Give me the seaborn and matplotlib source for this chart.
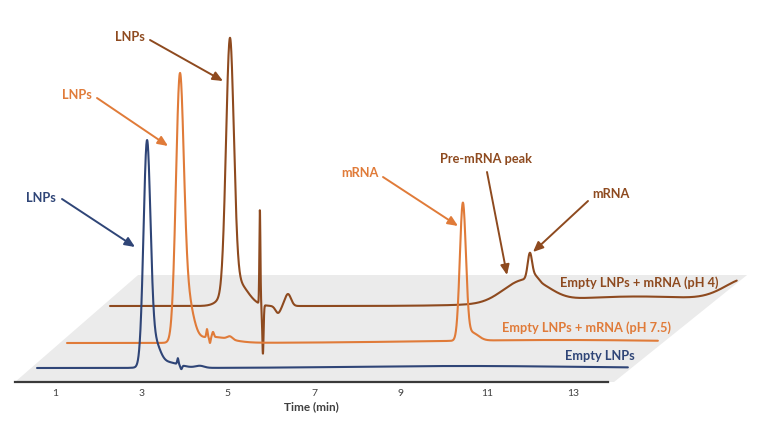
import numpy as np
import pandas as pd
import seaborn as sns
import matplotlib.pyplot as plt
from matplotlib.patches import Polygon
from matplotlib.transforms import ScaledTranslation

sns.set_theme(style="white")
plt.rcParams['font.family'] = ['Lato', 'DejaVu Sans']

# --- data (time in min, signal in a.u.) ---
trace_names = ['Empty LNPs', 'Empty LNPs + mRNA (pH 7.5)', 'Empty LNPs + mRNA (pH 4)']
run_start = [0.58, 0.58, 0.58]
run_end = [14.26, 14.26, 15.09]

blue_rt = [3.125, 3.30, 3.55, 3.84, 3.92, 4.35, 10.5]
blue_height = [218, 22, 6, 6, -4, 2, 2]
blue_width = [0.08, 0.12, 0.30, 0.015, 0.02, 0.10, 2.5]

orange_rt = [3.19, 3.35, 3.95, 3.82, 3.89, 3.96, 4.35, 9.745, 9.95, 12.0]
orange_height = [245, 45, 6, 8, -6, 5, 3, 135, 8, 3]
orange_width = [0.09, 0.14, 0.40, 0.015, 0.015, 0.02, 0.06, 0.07, 0.15, 3.0]

brown_rt = [3.356, 3.50, 4.05, 4.12, 4.47, 4.70, 10.1, 10.6, 10.30, 10.42, 12.8, 15.4]
brown_height = [247, 25, 94, -49, -7, 12, 20, 6, 25, 5, 9.5, 24]
brown_width = [0.09, 0.25, 0.012, 0.015, 0.06, 0.07, 0.45, 0.35, 0.05, 0.08, 2.0, 0.55]

tick_values = [1, 3, 5, 7, 9, 11, 13]

peaks = [(blue_rt, blue_height, blue_width),
         (orange_rt, orange_height, orange_width),
         (brown_rt, brown_height, brown_width)]
colors = ['#2f4577', '#e07b39', '#8e4a1f']
shift_px = [(0, 0), (30, 25), (73, 62)]   # pseudo-3D offset of each run


def chromatogram(t, rts, heights, widths):
    y = np.zeros_like(t)
    for rt, h, w in zip(rts, heights, widths):
        y += h * np.exp(-0.5 * ((t - rt) / w) ** 2)
    return y


frames = []
for name, t0, t1, (rt, h, w) in zip(trace_names, run_start, run_end, peaks):
    t = np.linspace(t0, t1, 4000)
    frames.append(pd.DataFrame({'run': name, 'time': t, 'signal': chromatogram(t, rt, h, w)}))
df = pd.concat(frames, ignore_index=True)

W, H = 768, 432
fig = plt.figure(figsize=(W / 100, H / 100), dpi=100)
ax = fig.add_axes([15 / W, 50 / H, 593 / W, 372 / H])
ax.set_xlim(0.07, 13.8)
ax.set_ylim(-14, 358)

# grey floor
floor = Polygon([(0.07, -14), (13.94, -14), (17.02, 93), (2.92, 93)],
                closed=True, fc='#ebebeb', ec='none', zorder=0, clip_on=False)
ax.add_patch(floor)

for i in [2, 1, 0]:
    name = trace_names[i]
    dx, dy = shift_px[i]
    tr = ax.transData + ScaledTranslation(dx / 100, dy / 100, fig.dpi_scale_trans)
    sns.lineplot(data=df[df['run'] == name], x='time', y='signal', estimator=None,
                 sort=False, color=colors[i], lw=1.5, ax=ax, transform=tr,
                 zorder=3 + (2 - i), clip_on=False)

ax.set_xlim(0.07, 13.8)
ax.set_ylim(-14, 358)
for s in ['top', 'left', 'right']:
    ax.spines[s].set_visible(False)
ax.spines['bottom'].set_color('#3a3a3a')
ax.spines['bottom'].set_linewidth(1.6)
ax.set_yticks([])
ax.set_xticks(tick_values)
ax.set_xticklabels([str(v) for v in tick_values])
ax.tick_params(axis='x', length=0, labelsize=7.5, pad=5, colors='#404040')
ax.set_ylabel('')
ax.set_xlabel('Time (min)', fontsize=8.5, fontweight='bold', color='#404040', labelpad=2)


def fp(x, y):
    return (x / W, 1 - y / H)


labels = [
    ('LNPs', 41, 198, 62, 199, 135, 247, 0),
    ('LNPs', 77, 95, 97, 98, 168, 146, 1),
    ('LNPs', 130, 37, 150, 40, 223, 81, 2),
    ('mRNA', 360, 173, 383, 177, 458, 226, 1),
    ('Pre-mRNA peak', 486, 159, 487, 172, 507, 275, 2),
    ('mRNA', 611, 194, 588, 201, 533, 252, 2),
]
for txt, tx, ty, ax0, ay0, ax1, ay1, ci in labels:
    fig.text(*fp(tx, ty), txt, color=colors[ci], fontsize=9.2, fontweight='bold',
             ha='center', va='center')
    ax.annotate('', xy=fp(ax1, ay1), xycoords='figure fraction',
                xytext=fp(ax0, ay0), textcoords='figure fraction',
                arrowprops=dict(arrowstyle='-|>,head_length=0.5,head_width=0.22',
                                color=colors[ci], lw=1.4, shrinkA=0, shrinkB=0))

run_labels = [(600, 356, 0), (587, 328, 1), (639, 283, 2)]
for x, y, ci in run_labels:
    fig.text(*fp(x, y), trace_names[ci], color=colors[ci], fontsize=9.2,
             fontweight='bold', ha='center', va='center')

fig.savefig('out.png', dpi=100)
